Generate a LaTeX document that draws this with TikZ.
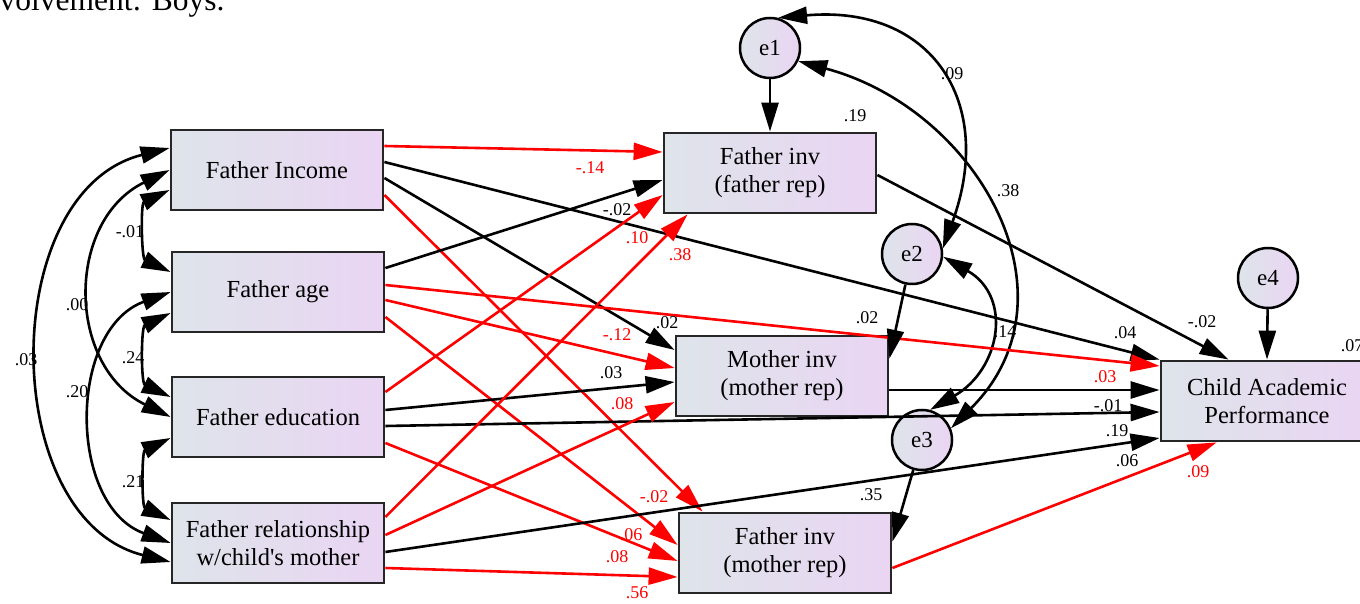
\documentclass[tikz,border=0pt]{standalone}
\usepackage{fontspec}
\setmainfont{Liberation Serif}
\usetikzlibrary{arrows.meta}
\definecolor{boxleft}{RGB}{222,228,234}
\definecolor{boxright}{RGB}{234,213,243}
\begin{document}
\begin{tikzpicture}[x=1pt, y=1pt,
		var/.style={draw=black!85, line width=2.8pt, left color=boxleft, right color=boxright, minimum width=212pt, minimum height=80pt, inner sep=0pt, align=center, font=\fontsize{24.5}{28}\selectfont},
		err/.style={circle, draw=black, line width=2.5pt, left color=boxleft, right color=boxright, minimum size=60pt, inner sep=0pt, font=\fontsize{23}{26}\selectfont},
		reg/.style={-{Triangle[length=29pt,width=17pt]}, line width=2.6pt},
		cov/.style={{Triangle[length=29pt,width=17pt]}-{Triangle[length=29pt,width=17pt]}, line width=2.6pt},
		est/.style={inner sep=0pt, font=\fontsize{18}{20}\selectfont}]
			\useasboundingbox (0,0) rectangle (1360,603);
			\node[anchor=base east, font=\fontsize{31.5}{36}\selectfont] (title) at (228,592.5) {Involvement: Boys.};
			\node[var] (FI) at (277,433) {Father Income};
			\node[var] (FA) at (278,311) {Father age};
			\node[var] (FE) at (278,186) {Father education};
			\node[var] (FR) at (278,60) {Father relationship\\w/child\textquotesingle s mother};
			\node[var] (FF) at (770,430) {Father inv\\(father rep)};
			\node[var] (MM) at (782,227) {Mother inv\\(mother rep)};
			\node[var] (FM) at (785,50) {Father inv\\(mother rep)};
			\node[var] (CAP) at (1267,202) {Child Academic\\Performance};
			\node[err] (e1) at (770,555) {e1};
			\node[err] (e2) at (912,349) {e2};
			\node[err] (e3) at (922,163) {e3};
			\node[err] (e4) at (1268,325) {e4};
			\draw[cov] ([yshift=-20pt]FI.west) to[out=205, in=155] ([yshift=20pt]FA.west);
			\draw[cov] ([yshift=-21pt]FA.west) to[out=205, in=155] ([yshift=20pt]FE.west);
			\draw[cov] ([yshift=-21pt]FE.west) to[out=205, in=155] ([yshift=23pt]FR.west);
			\draw[cov] (FI.west) to[out=206, in=154, looseness=1.2] (FE.west);
			\draw[cov] (FA.west) to[out=200, in=160, looseness=1.12] (FR.west);
			\draw[cov] ([yshift=22pt]FI.west) to[out=194, in=166, looseness=1.1] ([yshift=-19pt]FR.west);
			\draw[cov] (e1.75) to[out=5, in=70, looseness=1.4] (e2.10);
			\draw[cov] (e1.-25) to[out=-15, in=45, looseness=1.2] (e3.22);
			\draw[cov] (e2.-5) to[out=-30, in=30, looseness=1.35] (e3.75);
			\draw[reg, red] ([yshift=24pt]FI.east) -- ([yshift=21pt]FF.west);
			\draw[reg] ([yshift=8pt]FI.east) -- (CAP.north west);
			\draw[reg] ([yshift=-8pt]FI.east) -- ([yshift=26pt]MM.west);
			\draw[reg, red] ([yshift=-25pt]FI.east) -- ([xshift=25pt]FM.north west);
			\draw[reg] ([yshift=24pt]FA.east) -- ([yshift=-7pt]FF.west);
			\draw[reg, red] ([yshift=7pt]FA.east) -- ([yshift=35pt]CAP.west);
			\draw[reg, red] ([yshift=-8pt]FA.east) -- ([yshift=8pt]MM.west);
			\draw[reg, red] ([yshift=-25pt]FA.east) -- ([yshift=8pt]FM.west);
			\draw[reg, red] ([yshift=25pt]FE.east) -- ([yshift=-22pt]FF.west);
			\draw[reg] ([yshift=7pt]FE.east) -- ([yshift=-6pt]MM.west);
			\draw[reg] ([yshift=-9pt]FE.east) -- ([yshift=-11pt]CAP.west);
			\draw[reg, red] ([yshift=-26pt]FE.east) -- ([yshift=-8pt]FM.west);
			\draw[reg, red] ([yshift=26pt]FR.east) -- ([xshift=25pt]FF.south west);
			\draw[reg, red] ([yshift=8pt]FR.east) -- ([yshift=-26pt]MM.west);
			\draw[reg] ([yshift=-9pt]FR.east) -- ([yshift=-37pt]CAP.west);
			\draw[reg, red] ([yshift=-25pt]FR.east) -- ([yshift=-24pt]FM.west);
			\draw[reg] ([yshift=-2pt]FF.east) -- ([xshift=69pt]CAP.north west);
			\draw[reg] ([yshift=-14pt]MM.east) -- ([yshift=11pt]CAP.west);
			\draw[reg, red] ([yshift=-15pt]FM.east) -- ([xshift=57pt]CAP.south west);
			\draw[reg] (e1) -- (FF.north);
			\draw[reg] (e2) -- ([yshift=-24pt]MM.north east);
			\draw[reg] (e3) -- ([yshift=-30pt]FM.north east);
			\draw[reg] (e4) -- (CAP.north);
			\node[est] (cFIFA) at (130,371) {-.01};
			\node[est] (cFAFE) at (133,245) {.24};
			\node[est] (cFEFR) at (133,121) {.21};
			\node[est] (cFIFE) at (77,298) {.00};
			\node[est] (cFAFR) at (77,211) {.20};
			\node[est] (cFIFR) at (26,243) {.03};
			\node[est] (ce1e2) at (952,529) {.09};
			\node[est] (ce1e3) at (1008,412) {.38};
			\node[est] (ce2e3) at (1005,271) {.14};
			\node[est, red] (wFIFF) at (590,435) {-.14};
			\node[est] (wFAFF) at (617,393) {-.02};
			\node[est, red] (wFEFF) at (637,365) {.10};
			\node[est, red] (wFRFF) at (680,348) {.38};
			\node[est] (wFIMM) at (667,280) {.02};
			\node[est, red] (wFAMM) at (617,268) {-.12};
			\node[est] (wFEMM) at (611,230) {.03};
			\node[est, red] (wFRMM) at (622,199) {.08};
			\node[est, red] (wFIFM) at (654,106) {-.02};
			\node[est, red] (wFAFM) at (631,68) {.06};
			\node[est, red] (wFEFM) at (617,46) {.08};
			\node[est, red] (wFRFM) at (637,10) {.56};
			\node[est] (wFICAP) at (1125,270) {.04};
			\node[est] (wFFCAP) at (1202,281) {-.02};
			\node[est, red] (wFACAP) at (1105,226) {.03};
			\node[est] (wFECAP) at (1108,197) {-.01};
			\node[est] (wMMCAP) at (1117,172) {.19};
			\node[est] (wFRCAP) at (1127,142) {.06};
			\node[est, red] (wFMCAP) at (1198,131) {.09};
			\node[est] (rFF) at (855,487) {.19};
			\node[est] (rMM) at (867,285) {.02};
			\node[est] (rFM) at (871,108) {.35};
			\node[est] (rCAP) at (1352,257) {.07};
		\end{tikzpicture}
\end{document}
